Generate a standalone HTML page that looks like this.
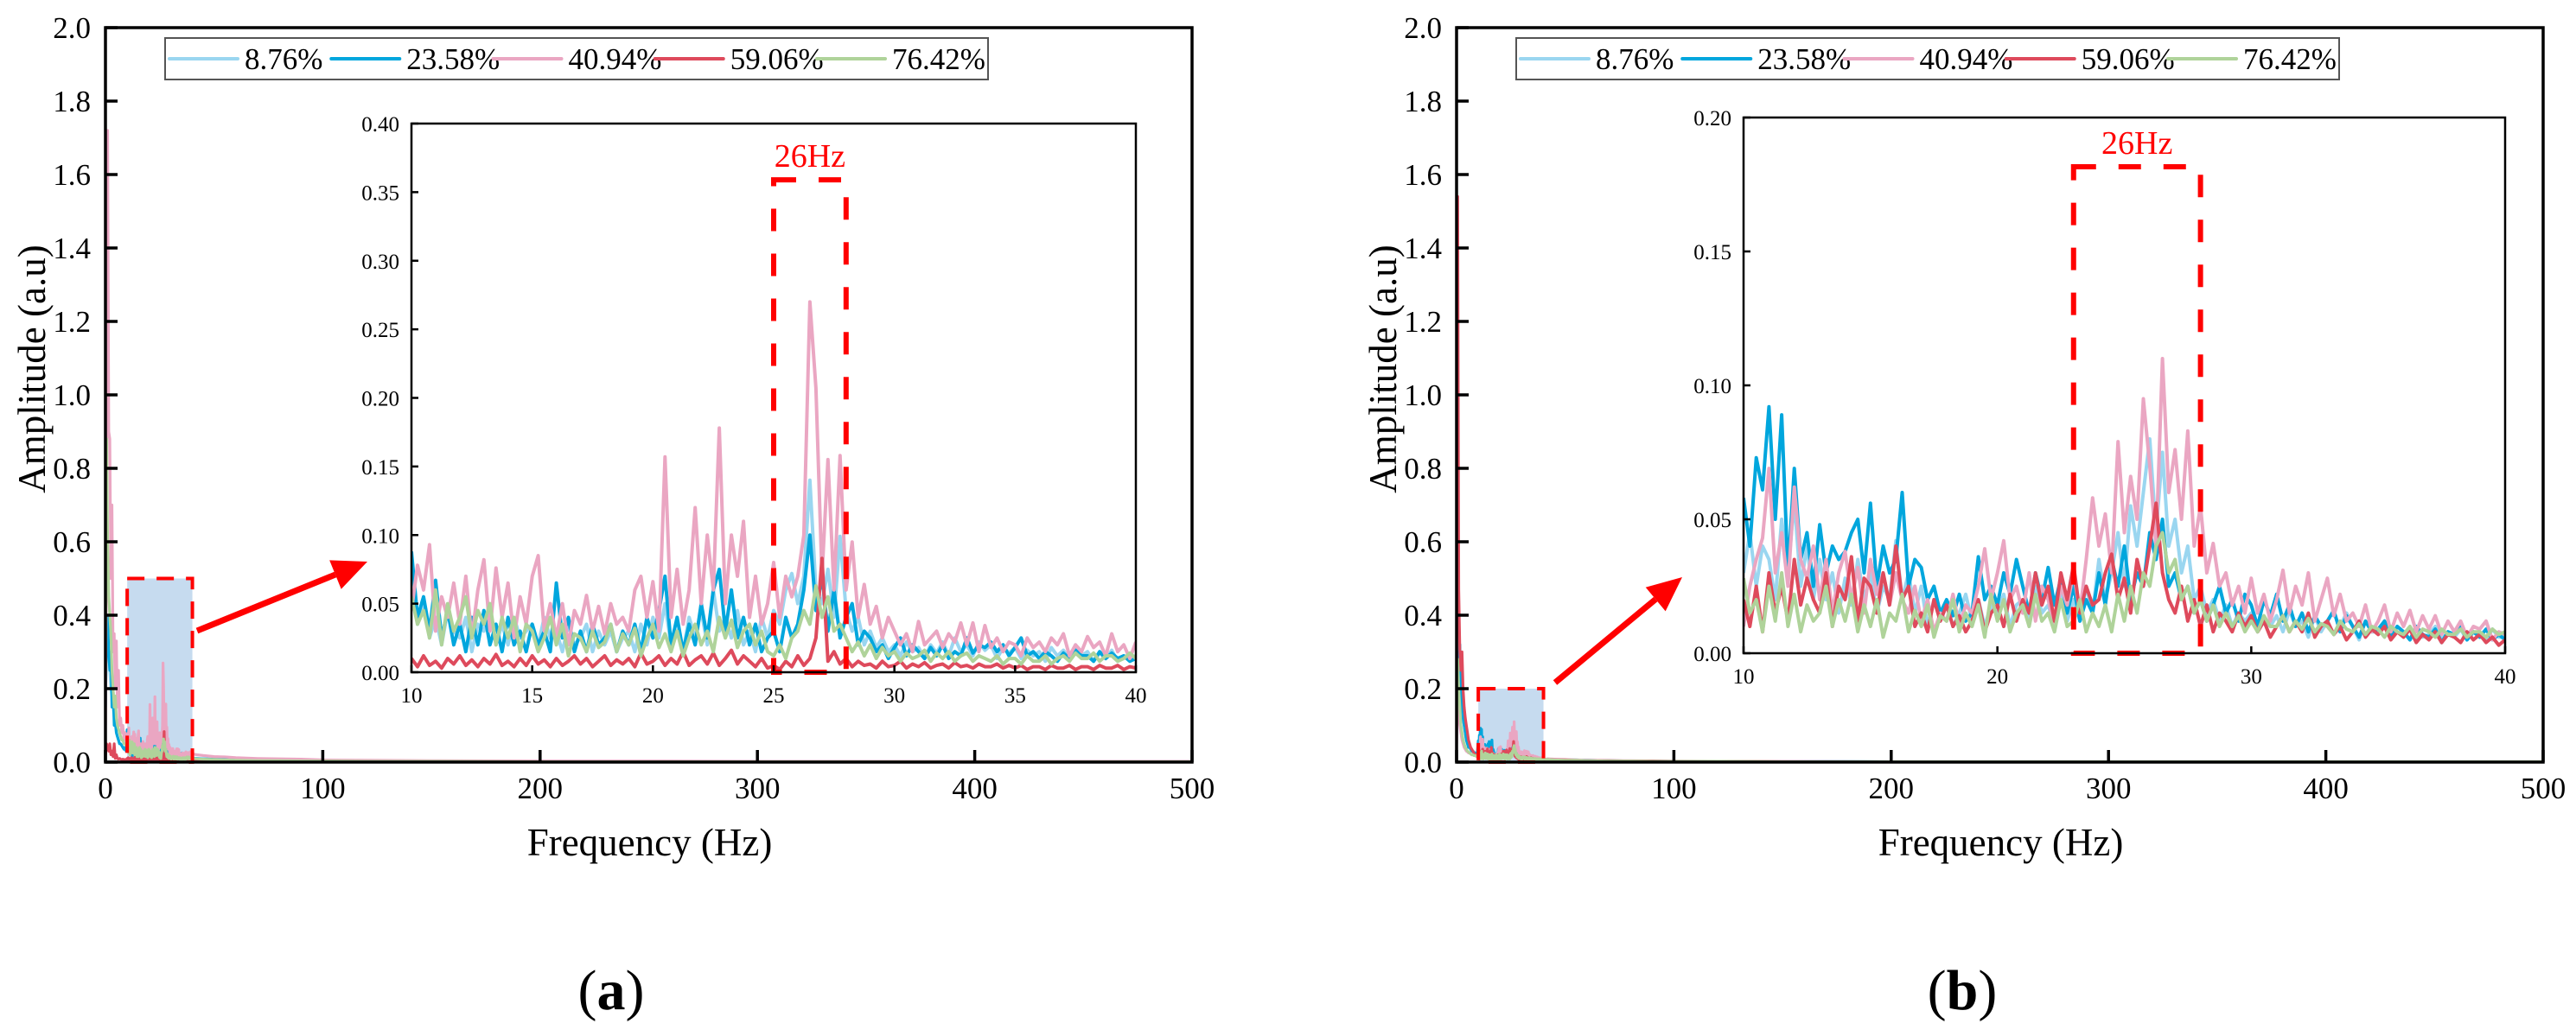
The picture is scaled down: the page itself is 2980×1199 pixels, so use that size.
<!DOCTYPE html>
<html><head><meta charset="utf-8">
<style>
html,body{margin:0;padding:0;background:#fff;}
svg{display:block;}
svg text{font-family:"Liberation Serif","DejaVu Serif",serif;}
</style></head>
<body>
<svg id="fig" xmlns="http://www.w3.org/2000/svg" width="2980" height="1199" viewBox="0 0 2980 1199">
<rect x="0" y="0" width="2980" height="1199" fill="#fff"/>
</svg>
<script>
// ===== DATA (amplitudes in thousandths of a.u.) =====
const seriesNames = ["8.76%","23.58%","40.94%","59.06%","76.42%"];
const headFreq = [0,0.5,1,1.5,2,2.5,3,3.5,4,4.5,5,5.5,6,6.5,7,7.5,8,8.5,9,9.5];
const insetFreqStart = 10;
const insetFreqStep = 0.25;
const tailFreq = [42,45,50,55,60,70,80,90,100,120,150,200,250,300,350,400,450,500];

// ---- panel (a) ----
const aHead_876 = [200,400,350,300,250,200,180,150,120,100,80,70,60,50,50,45,40,40,35,35];
const aHead_2358 = [150,350,400,300,250,300,150,200,100,120,80,70,60,50,50,45,40,35,40,30];
const aHead_4094 = [100,600,1720,900,880,500,700,300,350,200,330,150,250,100,120,80,100,60,80,60];
const aHead_5906 = [20,50,40,30,50,20,30,15,50,10,20,10,8,10,8,6,8,6,7,5];
const aHead_7642 = [300,880,600,450,400,350,250,200,150,180,120,100,90,80,70,60,60,50,50,45];

const aInset_876 = [60,35,50,25, 40,20,45,30, 25,40,15,35, 30,45,20,35, 20,40,25,30, 35,20,40,25, 30,15,35,20, 25,35,15,30, 20,30,15,25, 30,15,35,20, 40,25,50,20, 30,15,40,25, 45,20,60,30, 40,25,45,20, 30,15,40,25, 45,35,60,72, 50,70,140,60, 50,75,40,99, 45,30,40,20, 30,18,25,15, 20,12,22,15, 18,10,20,14, 22,12,25,15, 20,12,22,16, 20,10,18,14, 18,10,16,12, 15,8,18,12, 16,10,20,12, 15,8,14,10, 16,8,12,10, 12];
const aInset_2358 = [88,40,55,30, 67,25,45,20, 35,15,40,20, 45,20,35,15, 40,20,30,15, 35,20,30,15, 65,25,40,15, 30,15,35,20, 25,35,15,30, 20,35,15,40, 25,45,70,20, 40,15,35,20, 50,25,60,75, 30,60,25,40, 20,35,15,25, 30,15,40,25, 35,60,100,45, 70,30,60,25, 40,50,20,30, 25,15,20,10, 18,25,12,20, 15,10,18,12, 20,10,15,12, 25,14,20,18, 22,15,20,12, 18,25,12,15, 10,15,12,8, 14,10,16,12, 12,8,15,10, 14,10,12,8, 10];
const aInset_4094 = [45,78,60,93, 30,55,40,65, 35,70,25,60, 82,30,76,40, 65,25,55,35, 70,85,30,50, 25,50,20,45, 35,56,30,48, 28,50,35,40, 30,60,70,40, 66,30,157,40, 75,35,60,120, 50,100,60,178, 50,100,70,110, 40,70,35,50, 80,40,70,55, 70,100,270,207, 70,155,60,158, 60,95,40,64, 35,48,25,40, 30,20,28,15, 37,20,25,30, 18,28,22,36, 20,36,15,34, 18,25,15,22, 20,12,25,18, 22,15,25,20, 28,12,20,15, 26,18,22,12, 28,15,20,10, 22];
const aInset_5906 = [10,4,12,5, 8,3,10,6, 12,5,9,4, 10,6,13,5, 8,4,10,5, 12,6,9,4, 10,5,8,12, 6,10,4,8, 12,5,9,6, 10,4,14,6, 8,12,5,10, 6,15,5,9, 12,6,14,5, 10,16,6,12, 8,4,10,3, 5,2,8,4, 12,5,10,25, 83,8,15,6, 10,4,8,5, 6,3,8,4, 5,8,3,6, 4,7,3,5, 6,3,7,4, 5,3,6,4, 4,6,3,5, 3,5,2,4, 4,2,5,3, 3,5,2,4, 4,2,5,3, 3,5,2,4, 3];
const aInset_7642 = [55,35,45,25, 60,20,50,30, 40,55,25,45, 35,50,20,40, 25,40,15,35, 30,15,25,40, 20,35,12,28, 25,15,30,18, 22,35,15,28, 20,32,12,25, 35,18,28,15, 30,12,25,35, 20,30,15,40, 25,38,18,30, 35,20,30,15, 12,20,10,25, 30,45,35,63, 40,55,30,35, 25,15,22,12, 20,10,18,12, 15,8,14,10, 12,16,8,14, 10,15,8,12, 14,8,12,10, 8,12,6,10, 10,6,12,8, 8,12,6,10, 12,8,14,10, 10,14,8,12, 12,8,10,14, 10];

const aTail_876 = [10,9,8,7,6,5,4,3,3,2,2,2,1,1,1,1,1,1];
const aTail_2358 = [10,9,8,7,6,5,4,4,3,3,2,2,1,1,1,1,1,1];
const aTail_4094 = [20,18,15,14,12,10,9,8,6,5,4,3,3,2,2,2,2,2];
const aTail_5906 = [3,3,2,2,2,2,1,1,1,1,1,1,1,1,1,1,1,1];
const aTail_7642 = [9,8,7,6,5,4,4,3,3,2,2,1,1,1,1,1,1,1];

// ---- panel (b) ----
const bHead_876 = [100,500,300,250,200,150,120,100,80,60,50,45,40,35,30,30,28,25,25,20];
const bHead_2358 = [80,300,250,320,200,150,120,100,80,60,50,40,40,35,30,30,25,25,22,20];
const bHead_4094 = [50,200,150,100,80,60,50,40,35,30,28,25,25,22,20,20,18,18,16,15];
const bHead_5906 = [100,1540,470,300,250,300,200,150,120,100,80,60,50,40,35,30,25,20,20,15];
const bHead_7642 = [100,280,200,150,100,80,60,50,40,35,30,28,25,22,20,20,18,18,16,15];

const bInset_876 = [30,45,25,40, 35,20,50,30, 57,25,40,20, 35,20,30,15, 28,18,35,20, 30,15,25,20, 42,20,30,15, 25,10,20,12, 18,10,15,22, 12,20,10,18, 15,22,10,18, 20,12,25,15, 18,10,22,12, 20,12,25,15, 35,20,30,45, 25,55,40,60, 80,45,75,40, 50,30,40,20, 25,15,20,12, 18,10,15,12, 15,8,12,10, 14,8,16,10, 12,6,14,8, 12,7,10,15, 10,5,12,8, 8,12,6,10, 8,5,10,6, 7,10,5,8, 6,9,5,8, 7,5,9,6, 6];
const bInset_2358 = [58,40,73,61, 92,50,89,30, 69,35,45,25, 48,30,40,35, 38,45,50,30, 56,25,40,30, 35,60,25,35, 32,20,25,15, 20,14,22,12, 15,36,20,25, 18,30,22,35, 25,15,30,20, 32,18,28,15, 25,12,20,15, 30,18,35,25, 40,20,30,25, 45,35,50,25, 30,20,25,15, 20,12,18,25, 15,20,12,22, 18,10,20,14, 22,12,18,10, 15,8,14,10, 12,16,8,14, 10,6,12,8, 9,12,6,10, 8,5,10,7, 6,9,4,8, 7,10,5,8, 6,9,5,7, 5];
const bInset_4094 = [10,25,35,43, 69,30,45,25, 62,35,28,40, 20,35,15,30, 38,20,32,15, 35,22,30,18, 30,20,15,25, 12,20,8,15, 12,22,10,18, 15,25,39,20, 30,42,20,25, 15,30,12,25, 20,10,25,18, 30,15,35,58, 40,52,30,79, 45,66,50,95, 70,40,110,60, 76,50,83,40, 55,30,41,25, 30,18,25,15, 28,15,22,12, 20,31,15,25, 18,30,12,20, 28,14,22,12, 15,10,18,8, 12,18,8,15, 10,16,8,14, 9,14,7,12, 8,12,6,10, 9,12,5,8, 7];
const bInset_5906 = [20,10,25,8, 30,15,25,12, 35,18,28,20, 15,30,10,25, 20,36,12,28, 25,15,30,18, 40,20,25,10, 15,8,20,12, 18,10,14,8, 12,20,8,15, 18,10,22,12, 20,15,30,18, 25,12,30,20, 33,15,25,18, 20,30,37,20, 28,15,35,25, 40,56,30,20, 15,25,12,20, 10,18,8,15, 12,8,15,10, 14,8,12,6, 10,14,8,12, 8,15,6,10, 12,7,10,5, 8,12,6,9, 7,10,5,8, 6,9,4,7, 5,8,4,7, 6,4,8,5, 7,4,6,3, 5];
const bInset_7642 = [28,15,20,8, 25,12,30,10, 22,8,18,12, 15,25,10,20, 12,22,8,18, 10,20,6,15, 12,22,8,16, 10,18,6,14, 12,20,8,15, 10,18,6,22, 12,20,8,15, 18,10,22,12, 15,8,20,10, 12,20,8,15, 10,18,8,22, 12,25,15,30, 25,40,45,30, 35,20,25,15, 20,12,18,10, 15,10,14,8, 12,8,14,10, 10,14,8,12, 9,13,8,11, 10,7,12,9, 8,11,7,10, 9,6,10,8, 7,10,6,9, 8,6,9,7, 7,9,6,8, 8,6,9,7, 8];

const bTail_876 = [8,7,6,5,5,4,3,3,2,2,2,1,1,1,1,1,1,1];
const bTail_2358 = [8,7,6,6,5,4,3,3,2,2,2,1,1,1,1,1,1,1];
const bTail_4094 = [9,8,7,6,5,4,4,3,3,2,2,1,1,1,1,1,1,1];
const bTail_5906 = [7,6,6,5,4,4,3,3,2,2,1,1,1,1,1,1,1,1];
const bTail_7642 = [7,6,5,5,4,3,3,2,2,2,1,1,1,1,1,1,1,1];

// ticks
const mainXTicks = [0,100,200,300,400,500];
const mainXTickLabels = ["0","100","200","300","400","500"];
const mainYTicks = [0,0.2,0.4,0.6,0.8,1.0,1.2,1.4,1.6,1.8,2.0];
const mainYTickLabels = ["0.0","0.2","0.4","0.6","0.8","1.0","1.2","1.4","1.6","1.8","2.0"];
const aInsetXTicks = [10,15,20,25,30,35,40];
const aInsetXTickLabels = ["10","15","20","25","30","35","40"];
const aInsetYTicks = [0,0.05,0.10,0.15,0.20,0.25,0.30,0.35,0.40];
const aInsetYTickLabels = ["0.00","0.05","0.10","0.15","0.20","0.25","0.30","0.35","0.40"];
const bInsetXTicks = [10,20,30,40];
const bInsetXTickLabels = ["10","20","30","40"];
const bInsetYTicks = [0,0.05,0.10,0.15,0.20];
const bInsetYTickLabels = ["0.00","0.05","0.10","0.15","0.20"];
const aZoomBand = [25,28,0.359];
const bZoomBand = [23,28,0.1816];
const aMainZoom = [10,40,0.5];
const bMainZoom = [10,40,0.2];

// ===== RENDERING =====
const NS = "http://www.w3.org/2000/svg";
const svg = document.getElementById('fig');
const FONT = "Liberation Serif, DejaVu Serif, serif";
const colors = ["#9ad6f0","#00a6dd","#eaa6c2","#de4a5c","#afd39a"];
function mk(tag, attrs, parent){ const e=document.createElementNS(NS,tag); for(const k in attrs) e.setAttribute(k,attrs[k]); if(tag==='text') e.setAttribute('font-family',FONT); (parent||svg).appendChild(e); return e; }
function insetFreqs(n){ const f=[]; for(let i=0;i<n;i++) f.push(insetFreqStart+insetFreqStep*i); return f; }

function drawPanel(id, g, heads, insets, tails, mainZoom, band, inXT, inXTL, inYT, inYTL, inYMax){
  const P = mk('g',{});
  
  
  const xs = f => g.L + f/500*(g.R-g.L);
  const ys = v => g.B - v/2.0*(g.B-g.T);
  const zr = mk('rect',{x:xs(mainZoom[0]),y:ys(mainZoom[2]),width:xs(mainZoom[1])-xs(mainZoom[0]),height:g.B-ys(mainZoom[2]),fill:'#c6dbef'},P);
  
  
  const cp = mk('clipPath',{id:'clipm'+id},P); mk('rect',{x:g.L,y:g.T,width:g.R-g.L,height:g.B-g.T},cp);
  const fi = insetFreqs(insets[0].length);
  const allF = headFreq.concat(fi, tailFreq);
  for(let s=0;s<5;s++){
    const vals = heads[s].concat(insets[s], tails[s]);
    let d='';
    for(let i=0;i<allF.length;i++) d += (i?'L':'M')+xs(allF[i]).toFixed(1)+','+ys(vals[i]/1000).toFixed(1);
    const p = mk('path',{d:d,fill:'none',stroke:colors[s],'stroke-width':3.2,'stroke-linejoin':'round','clip-path':'url(#clipm'+id+')'},P);
    
    
  }
  const zb = mk('rect',{x:xs(mainZoom[0]),y:ys(mainZoom[2]),width:xs(mainZoom[1])-xs(mainZoom[0]),height:g.B-ys(mainZoom[2]),fill:'none',stroke:'#ff0000','stroke-width':4,'stroke-dasharray':'20 14'},P);
  
  
  const ax = mk('rect',{x:g.L,y:g.T,width:g.R-g.L,height:g.B-g.T,fill:'none',stroke:'#000','stroke-width':3.5},P);
  
  
  mainXTicks.forEach((t,i)=>{
    mk('line',{x1:xs(t),x2:xs(t),y1:g.B,y2:g.B-14,stroke:'#000','stroke-width':3.5},P);
    const tx=mk('text',{x:xs(t),y:g.B+42,'font-size':35,'text-anchor':'middle'},P); tx.textContent=mainXTickLabels[i];
     
  });
  mainYTicks.forEach((t,i)=>{
    mk('line',{x1:g.L,x2:g.L+14,y1:ys(t),y2:ys(t),stroke:'#000','stroke-width':3.5},P);
    const tx=mk('text',{x:g.L-17,y:ys(t)+12,'font-size':35,'text-anchor':'end'},P); tx.textContent=mainYTickLabels[i];
     
  });
  const xt=mk('text',{x:(g.L+g.R)/2+1,y:g.B+108,'font-size':45,'text-anchor':'middle'},P); xt.textContent='Frequency (Hz)';
   
  const ytx=g.L-70, yty=(g.T+g.B)/2-30;
  const yt=mk('text',{x:ytx,y:yty,'font-size':45,'text-anchor':'middle',transform:'rotate(-90 '+ytx+' '+yty+')'},P); yt.textContent='Amplitude (a.u)';
   
  const lg = mk('g',{},P);
   
  mk('rect',{x:g.lx,y:g.T+12,width:952,height:48,fill:'#fff',stroke:'#555','stroke-width':2},lg);
  for(let s=0;s<5;s++){
    const sx=g.lx+5+s*187.25;
    const e=mk('g',{},lg);
    
    
    mk('line',{x1:sx,x2:sx+79,y1:g.T+36,y2:g.T+36,stroke:colors[s],'stroke-width':4,'stroke-linecap':'round'},e);
    const t=mk('text',{x:sx+87,y:g.T+48,'font-size':35},e); t.textContent=seriesNames[s];
  }
  const I=g.inset;
  const ixs = f => I.L + (f-10)/30*(I.R-I.L);
  const iys = v => I.B - v/inYMax*(I.B-I.T);
  const ig = mk('g',{},P);
   
  mk('rect',{x:I.L,y:I.T,width:I.R-I.L,height:I.B-I.T,fill:'#fff'},ig);
  const cpi = mk('clipPath',{id:'clipi'+id},ig); mk('rect',{x:I.L,y:I.T,width:I.R-I.L,height:I.B-I.T},cpi);
  for(let s=0;s<5;s++){
    let d='';
    for(let i=0;i<fi.length;i++) d += (i?'L':'M')+ixs(fi[i]).toFixed(1)+','+iys(insets[s][i]/1000).toFixed(1);
    const p=mk('path',{d:d,fill:'none',stroke:colors[s],'stroke-width':4,'stroke-linejoin':'round','clip-path':'url(#clipi'+id+')'},ig);
    
    
  }
  const bx = mk('rect',{x:ixs(band[0]),y:iys(band[2]),width:ixs(band[1])-ixs(band[0]),height:I.B-iys(band[2]),fill:'none',stroke:'#ff0000','stroke-width':6,'stroke-dasharray':'26 26'},ig);
   
  const hl = mk('text',{x:(ixs(band[0])+ixs(band[1]))/2,y:iys(band[2])-15,'font-size':38,fill:'#ff0000','text-anchor':'middle'},ig); hl.textContent='26Hz';
   
  mk('rect',{x:I.L,y:I.T,width:I.R-I.L,height:I.B-I.T,fill:'none',stroke:'#000','stroke-width':2.5},ig);
  inXT.forEach((t,i)=>{
    mk('line',{x1:ixs(t),x2:ixs(t),y1:I.B,y2:I.B-8,stroke:'#000','stroke-width':2.5},ig);
    const tx=mk('text',{x:ixs(t),y:I.B+35,'font-size':25,'text-anchor':'middle'},ig); tx.textContent=inXTL[i];
     
  });
  inYT.forEach((t,i)=>{
    mk('line',{x1:I.L,x2:I.L+8,y1:iys(t),y2:iys(t),stroke:'#000','stroke-width':2.5},ig);
    const tx=mk('text',{x:I.L-14,y:iys(t)+9,'font-size':25,'text-anchor':'end'},ig); tx.textContent=inYTL[i];
     
  });
  const A=g.arrow;
  const ar = mk('g',{},P);
   
  const dx=A[2]-A[0], dy=A[3]-A[1], len=Math.hypot(dx,dy), ux=dx/len, uy=dy/len;
  const hb=[A[2]-ux*40, A[3]-uy*40];
  mk('line',{x1:A[0],y1:A[1],x2:hb[0],y2:hb[1],stroke:'#ff0000','stroke-width':7},ar);
  mk('polygon',{points:`${A[2]},${A[3]} ${hb[0]-uy*18},${hb[1]+ux*18} ${hb[0]+uy*18},${hb[1]-ux*18}`,fill:'#ff0000'},ar);
  const cap=mk('text',{x:g.capx,y:1168,'font-size':66,'text-anchor':'middle'},P);
   
  cap.innerHTML='(<tspan font-weight="bold">'+id+'</tspan>)';
}

drawPanel('a',{L:122,R:1379,T:32,B:882,lx:191,inset:{L:476,R:1314,T:143,B:778},arrow:[228,730,425,650],capx:707},
  [aHead_876,aHead_2358,aHead_4094,aHead_5906,aHead_7642],
  [aInset_876,aInset_2358,aInset_4094,aInset_5906,aInset_7642],
  [aTail_876,aTail_2358,aTail_4094,aTail_5906,aTail_7642],
  aMainZoom, aZoomBand, aInsetXTicks, aInsetXTickLabels, aInsetYTicks, aInsetYTickLabels, 0.40);
drawPanel('b',{L:1685,R:2942,T:32,B:882,lx:1754,inset:{L:2017,R:2898,T:136,B:756},arrow:[1799,790,1946,668],capx:2270},
  [bHead_876,bHead_2358,bHead_4094,bHead_5906,bHead_7642],
  [bInset_876,bInset_2358,bInset_4094,bInset_5906,bInset_7642],
  [bTail_876,bTail_2358,bTail_4094,bTail_5906,bTail_7642],
  bMainZoom, bZoomBand, bInsetXTicks, bInsetXTickLabels, bInsetYTicks, bInsetYTickLabels, 0.20);
</script>
</body></html>
